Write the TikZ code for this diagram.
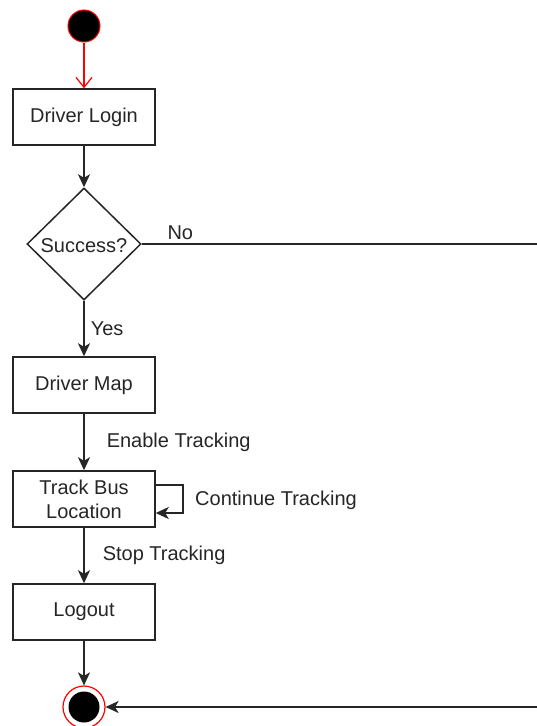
\documentclass[tikz,border=0pt]{standalone}
\usepackage{fontspec}
\setmainfont{Liberation Sans}
\usetikzlibrary{arrows.meta,shapes.geometric}
\begin{document}
\begin{tikzpicture}[x=1pt,y=-1pt,
  every node/.style={font=\fontsize{20}{23}\selectfont, text=black!85},
  actbox/.style={draw=black!85, line width=1.5pt, minimum width=142pt, minimum height=56pt, align=center, inner sep=0pt},
  decbox/.style={draw=black!85, line width=1.5pt, diamond, minimum width=114pt, minimum height=112pt, inner sep=0pt, aspect=1},
  flow/.style={draw=black!85, line width=1.5pt, -{Stealth[length=13pt,width=12pt,inset=3.5pt]}},
  lbl/.style={anchor=west, inner sep=0pt}
]
\clip (0,0) rectangle (537,726);
\fill[white] (0,0) rectangle (537,726);

% initial state
\node[circle, fill=black, draw=red, line width=1pt, minimum size=32pt, inner sep=0pt] (start) at (84,26) {};

% activities
\node[actbox] (login) at (84,117) {Driver Login};
\node[decbox] (ok) at (84,244) {};
\node at (84,246) {Success?};
\node[actbox] (map) at (84,385) {Driver Map};
\node[actbox] (track) at (84,499) {Track Bus\\[1pt]Location};
\node[actbox] (logout) at (84,612) {Logout};

% final state
\node[circle, draw=red, line width=1.2pt, fill=white, minimum size=42pt, inner sep=0pt] (final) at (84,707) {};
\node[circle, fill=black, minimum size=31pt, inner sep=0pt] at (final) {};

% connectors
\draw[red, line width=1.2pt, -{Straight Barb[length=10pt,width=16pt]}] (start) -- (login);
\draw[flow] (login) -- (ok.north);
\draw[flow] (ok.south) -- node[lbl, right=6pt, pos=0.5] {Yes} (map);
\draw[flow] (map) -- node[lbl, right=22pt] {Enable Tracking} (track);
\draw[flow] (track) -- node[lbl, right=18pt] {Stop Tracking} (logout);
\draw[flow] (logout) -- (final);

% self loop
\coordinate (loopR) at (183,485);
\draw[flow] (track.east |- loopR) -- (loopR) |- ([yshift=-14pt]track.east);
\node[lbl] at (195,500) {Continue Tracking};

% failure path leaves on the right and returns to the end
\coordinate (offR) at (570,244);
\draw[flow] (ok.east) -- node[lbl, pos=0, xshift=25pt, yshift=11pt] {No} (offR) |- (final);
\end{tikzpicture}
\end{document}
